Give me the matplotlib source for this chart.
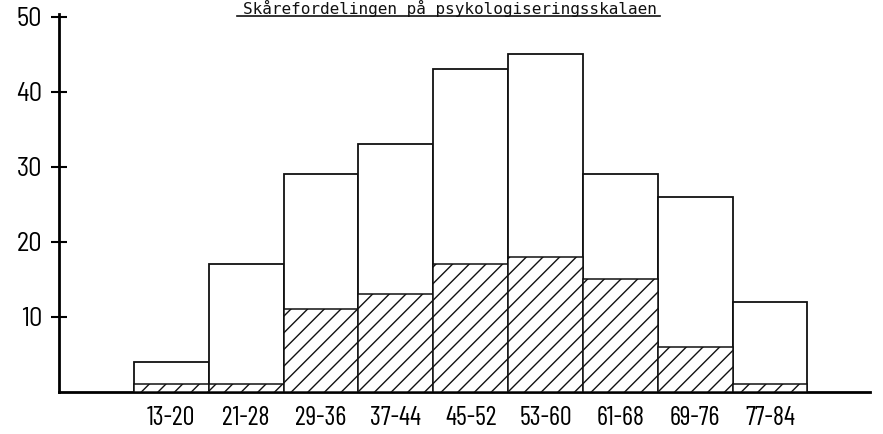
import matplotlib
matplotlib.use("Agg")
import matplotlib.pyplot as plt
import numpy as np

# score classes and counts
classes = ["13-20", "21-28", "29-36", "37-44", "45-52", "53-60", "61-68", "69-76", "77-84"]
total = [4, 17, 29, 33, 43, 45, 29, 26, 12]
hatched = [1, 1, 11, 13, 17, 18, 15, 6, 1]
yticks = [10, 20, 30, 40, 50]
title = "Skårefordelingen på psykologiseringsskalaen"

x_font = ["Barlow Condensed", "DejaVu Sans"]
y_font = ["Barlow Semi Condensed", "Barlow Condensed", "DejaVu Sans"]
plt.rcParams["hatch.linewidth"] = 1.0

fig = plt.figure(figsize=(8.83, 4.34), dpi=100)
ax = fig.add_axes([0.0668, 0.097, 0.918, 0.871])

x = np.arange(len(classes))
ax.bar(x, total, width=1.0, color="white", edgecolor="#111111", linewidth=1.3, zorder=2)
ax.bar(x, hatched, width=1.0, color="white", edgecolor="#111111", linewidth=1.1,
       hatch="//", zorder=3)

ax.set_xlim(-1.5, 9.33)
ax.set_ylim(0, 50.4)

for s in ["top", "right"]:
    ax.spines[s].set_visible(False)
ax.spines["left"].set_linewidth(2.0)
ax.spines["bottom"].set_linewidth(2.0)

ax.set_yticks(yticks)
ax.set_yticklabels([str(v) for v in yticks], family=y_font, fontsize=19)
ax.tick_params(axis="y", direction="inout", length=12, width=1.5, pad=6)

ax.set_xticks(x)
ax.set_xticklabels(classes, family=x_font, fontsize=19)
ax.tick_params(axis="x", length=0, pad=10)

fig.text(0.51, 0.968, title, ha="center", va="baseline",
         family="DejaVu Sans Mono", fontsize=11.5, color="#111111")
fig.add_artist(plt.Line2D([0.268, 0.748], [0.962, 0.962], transform=fig.transFigure,
                          color="#111111", linewidth=1.2))

fig.savefig("out.png", dpi=100)
